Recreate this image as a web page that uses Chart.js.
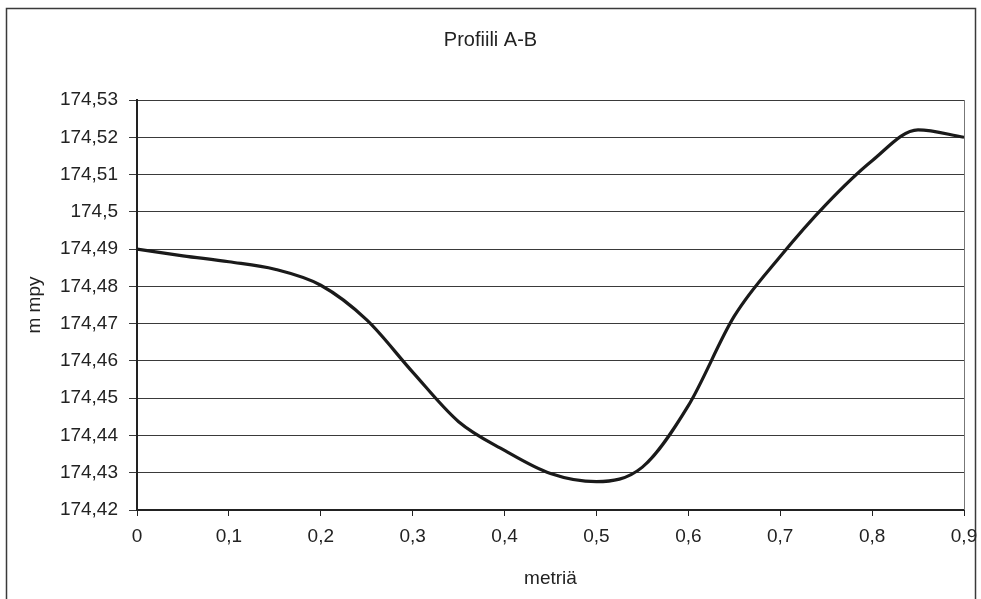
<!DOCTYPE html>
<html>
<head>
<meta charset="utf-8">
<script src="https://cdn.jsdelivr.net/npm/chart.js@4/dist/chart.umd.min.js"></script>
<style>
  html, body { margin: 0; padding: 0; background: #fff; }
  #wrap { width: 981px; height: 599px; }
</style>
</head>
<body>
<div id="wrap"><canvas id="c" width="981" height="599"></canvas></div>
<script>
const chartTitle = 'Profiili A-B';
const xAxisTitle = 'metriä';
const yAxisTitle = 'm mpy';
const distances = [0, 0.05, 0.1, 0.15, 0.2, 0.25, 0.3, 0.35, 0.4, 0.45, 0.5, 0.55, 0.6, 0.65, 0.7, 0.75, 0.8, 0.85, 0.9];
const elevations = [174.490, 174.4882, 174.4866, 174.4846, 174.4803, 174.4710, 174.4570, 174.4437, 174.4360, 174.4298, 174.4276, 174.4315, 174.4480, 174.4720, 174.4880, 174.5020, 174.5137, 174.5220, 174.5200];
const yMin = 174.42, yMax = 174.53, yStep = 0.01;
const xMin = 0, xMax = 0.9, xStep = 0.1;

const points = distances.map((d, i) => ({ x: d, y: elevations[i] }));
const fmt = (v, dec) => String(Math.round(v * Math.pow(10, dec)) / Math.pow(10, dec)).replace('.', ',');

const frame = {
  id: 'frame',
  beforeDraw(chart) {
    const ctx = chart.ctx;
    ctx.save();
    ctx.fillStyle = '#fff';
    ctx.fillRect(0, 0, chart.width, chart.height);
    ctx.strokeStyle = '#3a3a3a';
    ctx.lineWidth = 1.5;
    ctx.strokeRect(6.5, 8.5, 969, 620);
    ctx.restore();
  },
  afterDatasetsDraw(chart) {
    const a = chart.chartArea, ctx = chart.ctx;
    ctx.save();
    ctx.strokeStyle = '#777';
    ctx.lineWidth = 1;
    ctx.beginPath();
    ctx.moveTo(a.right + 0.5, a.top);
    ctx.lineTo(a.right + 0.5, a.bottom);
    ctx.stroke();
    ctx.restore();
  }
};

Chart.defaults.font.family = '"Liberation Sans", Arial, sans-serif';
Chart.defaults.font.size = 19;
Chart.defaults.color = '#222';

new Chart(document.getElementById('c'), {
  type: 'line',
  data: {
    datasets: [{
      data: points,
      borderColor: '#1a1a1a',
      borderWidth: 3.2,
      pointRadius: 0,
      fill: false,
      cubicInterpolationMode: 'monotone'
    }]
  },
  options: {
    responsive: false,
    animation: false,
    layout: { padding: { left: 0, right: 0, top: 0, bottom: 0 } },
    plugins: {
      legend: { display: false },
      tooltip: { enabled: false },
      title: {
        display: true,
        text: chartTitle,
        color: '#222',
        font: { size: 20, weight: 'normal' },
        padding: { top: 28, bottom: 48 }
      }
    },
    scales: {
      x: {
        type: 'linear',
        min: xMin, max: xMax,
        afterFit(s) { s.height = 89; s.paddingRight = 17; s.paddingLeft = 0; },
        ticks: { stepSize: xStep, padding: 9.5, maxRotation: 0, callback: v => fmt(v, 1) },
        grid: { drawOnChartArea: false, color: '#222', tickLength: 6, lineWidth: 1 },
        border: { color: '#222', width: 2 },
        title: { display: true, text: xAxisTitle, padding: { top: 0, bottom: 8.6 }, font: { size: 19 } }
      },
      y: {
        min: yMin, max: yMax,
        afterFit(s) { s.width = 137; },
        ticks: { stepSize: yStep, padding: 11, callback: v => fmt(v, 2) },
        grid: { color: '#3a3a3a', tickLength: 8, lineWidth: 1 },
        border: { color: '#222', width: 2 },
        title: { display: true, text: yAxisTitle, padding: { top: 23.6, bottom: 0 }, font: { size: 19 } }
      }
    }
  },
  plugins: [frame]
});
</script>
</body>
</html>
